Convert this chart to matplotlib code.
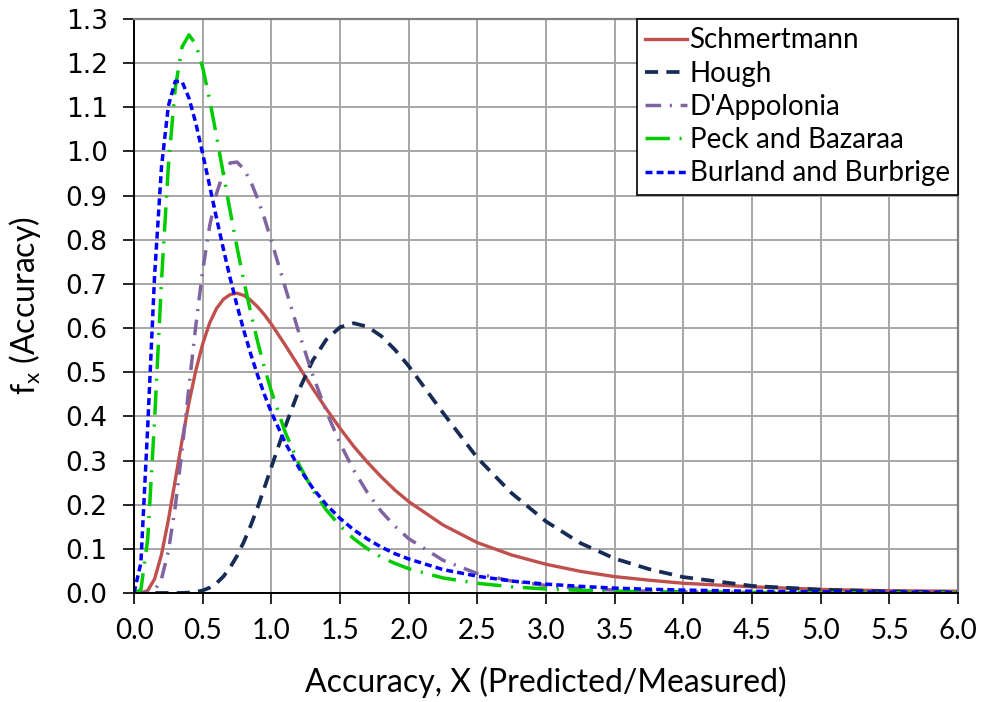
import matplotlib.pyplot as plt
import numpy as np

# accuracy X (predicted / measured)
x = [0.0, 0.05, 0.1, 0.15, 0.2, 0.25, 0.3, 0.35, 0.4, 0.45, 0.5,
     0.55, 0.6, 0.65, 0.7, 0.75, 0.8, 0.85, 0.9, 0.95, 1.0,
     1.1, 1.2, 1.3, 1.4, 1.5, 1.6, 1.7, 1.8, 1.9, 2.0,
     2.25, 2.5, 2.75, 3.0, 3.25, 3.5, 3.75, 4.0,
     4.5, 5.0, 5.5, 6.0]

schmertmann = [0, 0, 0.0055, 0.032, 0.087, 0.165, 0.255, 0.346, 0.431, 0.504, 0.564,
               0.611, 0.644, 0.665, 0.676, 0.679, 0.674, 0.663, 0.648, 0.630, 0.609,
               0.562, 0.513, 0.464, 0.417, 0.373, 0.332, 0.296, 0.263, 0.233, 0.207,
               0.154, 0.114, 0.086, 0.065, 0.049, 0.037, 0.029, 0.022,
               0.014, 0.008, 0.005, 0.004]

hough = [0, 0, 0, 0, 0, 0, 0, 0.0002, 0.0008, 0.0023, 0.0057,
         0.012, 0.022, 0.037, 0.058, 0.084, 0.116, 0.153, 0.194, 0.239, 0.285,
         0.376, 0.459, 0.526, 0.574, 0.602, 0.611, 0.603, 0.582, 0.551, 0.514,
         0.408, 0.306, 0.226, 0.162, 0.113, 0.078, 0.054, 0.036,
         0.016, 0.0075, 0.0035, 0.0015]

dappolonia = [0, 0, 0.0003, 0.006, 0.032, 0.094, 0.195, 0.325, 0.467, 0.606, 0.730,
              0.830, 0.904, 0.951, 0.974, 0.976, 0.960, 0.932, 0.893, 0.848, 0.798,
              0.693, 0.590, 0.495, 0.411, 0.339, 0.278, 0.227, 0.185, 0.151, 0.123,
              0.074, 0.044, 0.027, 0.017, 0.010, 0.0065, 0.004, 0.0027,
              0.0011, 0.0005, 0.0002, 0.0001]

peck = [0, 0.007, 0.123, 0.394, 0.706, 0.967, 1.143, 1.237, 1.264, 1.243, 1.190,
        1.118, 1.036, 0.950, 0.865, 0.783, 0.706, 0.635, 0.569, 0.510, 0.457,
        0.365, 0.292, 0.234, 0.188, 0.152, 0.123, 0.100, 0.081, 0.067, 0.055,
        0.034, 0.022, 0.014, 0.009, 0.006, 0.004, 0.003, 0.002,
        0.001, 0.0005, 0.0003, 0.0002]

burland = [0, 0.068, 0.379, 0.720, 0.965, 1.103, 1.159, 1.158, 1.121, 1.064, 0.995,
           0.923, 0.850, 0.780, 0.713, 0.651, 0.594, 0.541, 0.493, 0.449, 0.409,
           0.341, 0.284, 0.238, 0.200, 0.169, 0.143, 0.122, 0.104, 0.089, 0.077,
           0.053, 0.038, 0.027, 0.020, 0.015, 0.011, 0.0085, 0.0066,
           0.004, 0.0025, 0.0016, 0.0011]

fig = plt.figure(figsize=(9.84, 7.02), dpi=100)
ax = fig.add_axes([0.1362, 0.1553, 0.8374, 0.8176])

ax.plot(x, schmertmann, color='#C0504D', lw=2.4, label='Schmertmann')
ax.plot(x, hough, color='#172C55', lw=2.7, dashes=(3.5, 2.2), label='Hough')
ax.plot(x, dappolonia, color='#8064A2', lw=2.5, dashes=(4.5, 2.5, 0.6, 2.5), label="D'Appolonia")
ax.plot(x, peck, color='#00CC00', lw=2.5, dashes=(7, 2.8, 0.6, 2.8), label='Peck and Bazaraa')
ax.plot(x, burland, color='#0000FF', lw=2.5, dashes=(2, 1.2), label='Burland and Burbrige')

ax.set_xlim(0, 6)
ax.set_ylim(0, 1.3)
xt = np.arange(0, 6.01, 0.5)
yt = np.arange(0, 1.301, 0.1)
ax.set_xticks(xt)
ax.set_yticks(yt)
ax.set_xticklabels([f'{v:.1f}' for v in xt], fontsize=20, family='Lato')
ax.set_yticklabels([f'{v:.1f}' for v in yt], fontsize=19, family='DejaVu Sans')
ax.tick_params(direction='out', length=8, width=1.2, color='black')
ax.tick_params(axis='y', pad=11)
ax.tick_params(axis='x', pad=10)

ax.grid(True, color='#A6A6A6', lw=1.4)
ax.set_axisbelow(True)
for side in ['left', 'bottom']:
    ax.spines[side].set_color('black')
    ax.spines[side].set_linewidth(1.4)
for side in ['top', 'right']:
    ax.spines[side].set_color('#7F7F7F')
    ax.spines[side].set_linewidth(1.6)

ax.set_xlabel('Accuracy, X (Predicted/Measured)', fontsize=23,
              family='Lato', labelpad=16)
ax.set_ylabel('f$_\\mathregular{x}$ (Accuracy)', fontsize=23,
              family='Lato', labelpad=16)

leg = ax.legend(loc='upper right', borderaxespad=0, fancybox=False,
                framealpha=1, edgecolor='black', handlelength=1.5,
                handletextpad=0.1, labelspacing=0.26, borderpad=0.3,
                prop={'family': 'Lato', 'size': 20})
leg.get_frame().set_linewidth(1.2)

plt.savefig('out.png', dpi=100)
